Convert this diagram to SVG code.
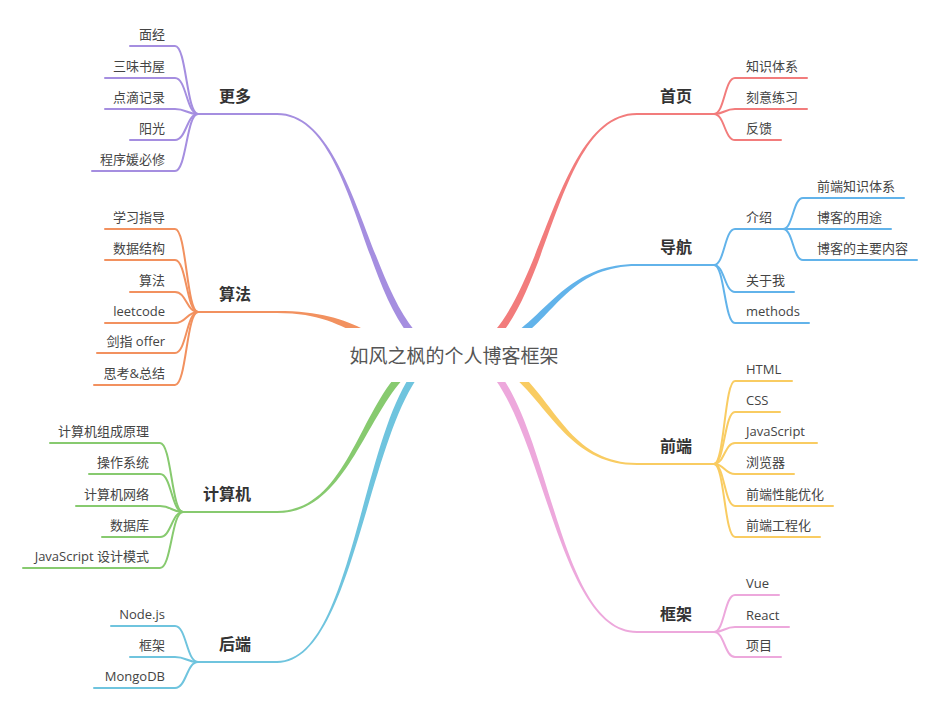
<svg xmlns="http://www.w3.org/2000/svg" width="939" height="711" viewBox="0 0 939 711">
<style>
.lf{font-family:"Open Sans","Noto Sans CJK SC",sans-serif;font-size:13px;fill:#444}
.le{text-anchor:end}
.mn{font-family:"Noto Sans CJK SC",sans-serif;font-size:16px;font-weight:bold;fill:#333}
.rt{font-family:"Noto Sans CJK SC",sans-serif;font-size:19px;fill:#555;text-anchor:middle}
.c{fill:none;stroke-width:2;stroke-linecap:round}
.pu{stroke:#a58ee0}.puf{fill:#a58ee0}
.or{stroke:#f2915f}.orf{fill:#f2915f}
.gr{stroke:#87ca6f}.grf{fill:#87ca6f}
.cy{stroke:#6fc4de}.cyf{fill:#6fc4de}
.re{stroke:#f27c7c}.ref{fill:#f27c7c}
.bl{stroke:#62b3ea}.blf{fill:#62b3ea}
.ye{stroke:#f9cc62}.yef{fill:#f9cc62}
.pk{stroke:#eda8dc}.pkf{fill:#eda8dc}
</style>
<rect width="939" height="711" fill="#fff"/>
<g id="connectors">
<!-- main tapered branches -->
<path class="puf" d="M 277,113 C 348.7,113 365.0,270.6 414.7,330.8 L 409.3,335.2 C 359.6,275.0 348.7,115 277,115 Z"/>
<path class="orf" d="M 277,311 C 319.9,311 343.6,319.2 365.1,329.9 L 361.9,336.1 C 340.4,325.5 319.9,313 277,313 Z"/>
<path class="grf" d="M 277,513 C 342.1,513 362.1,426.7 401.7,380.4 L 396.3,375.8 C 356.7,422.1 342.1,511 277,511 Z"/>
<path class="cyf" d="M 277,663 C 349.1,663 365.4,456.7 415.8,380.0 L 410.0,376.2 C 359.6,452.9 349.1,661 277,661 Z"/>
<path class="ref" d="M 637,113 C 562.9,113 546.1,270.5 494.8,330.7 L 500.2,335.3 C 551.5,275.1 562.9,115 637,115 Z"/>
<path class="blf" d="M 637,264 C 575.6,264 553.2,303.3 518.9,330.3 L 523.3,335.8 C 557.6,308.8 575.6,266 637,266 Z"/>
<path class="yef" d="M 637,465 C 575.1,465 552.6,414.2 517.8,380.5 L 522.6,375.5 C 557.4,409.2 575.1,463 637,463 Z"/>
<path class="pkf" d="M 637,633 C 563.3,633 546.1,451.3 495.6,380.0 L 501.4,376.0 C 551.9,447.3 563.3,631 637,631 Z"/>
<!-- main node underlines -->
<path class="c pu" d="M 198,114 H 277"/>
<path class="c or" d="M 198,312 H 277"/>
<path class="c gr" d="M 183,512 H 277"/>
<path class="c cy" d="M 198,662 H 277"/>
<path class="c re" d="M 637,114 H 714"/>
<path class="c bl" d="M 637,265 H 714"/>
<path class="c ye" d="M 637,464 H 714"/>
<path class="c pk" d="M 637,632 H 714"/>
<!-- 更多 leaves -->
<path class="c pu" d="M 198,114 C 186.5,114 186.5,46 175,46 H 130"/>
<path class="c pu" d="M 198,114 C 186.5,114 186.5,78 175,78 H 105"/>
<path class="c pu" d="M 198,114 C 186.5,114 186.5,109 175,109 H 105"/>
<path class="c pu" d="M 198,114 C 186.5,114 186.5,140 175,140 H 130"/>
<path class="c pu" d="M 198,114 C 186.5,114 186.5,171 175,171 H 92"/>
<!-- 算法 leaves -->
<path class="c or" d="M 198,312 C 186.5,312 186.5,229 175,229 H 105"/>
<path class="c or" d="M 198,312 C 186.5,312 186.5,260 175,260 H 105"/>
<path class="c or" d="M 198,312 C 186.5,312 186.5,292 175,292 H 130"/>
<path class="c or" d="M 198,312 C 186.5,312 186.5,323 175,323 H 105"/>
<path class="c or" d="M 198,312 C 186.5,312 186.5,353 175,353 H 97"/>
<path class="c or" d="M 198,312 C 186.5,312 186.5,385 175,385 H 94"/>
<!-- 计算机 leaves -->
<path class="c gr" d="M 183,512 C 171.5,512 171.5,443 160,443 H 50"/>
<path class="c gr" d="M 183,512 C 171.5,512 171.5,474 160,474 H 89"/>
<path class="c gr" d="M 183,512 C 171.5,512 171.5,506 160,506 H 76"/>
<path class="c gr" d="M 183,512 C 171.5,512 171.5,537 160,537 H 102"/>
<path class="c gr" d="M 183,512 C 171.5,512 171.5,568 160,568 H 23"/>
<!-- 后端 leaves -->
<path class="c cy" d="M 198,662 C 186.5,662 186.5,626 175,626 H 111"/>
<path class="c cy" d="M 198,662 C 186.5,662 186.5,657 175,657 H 130"/>
<path class="c cy" d="M 198,662 C 186.5,662 186.5,688 175,688 H 94"/>
<!-- 首页 leaves -->
<path class="c re" d="M 714,114 C 724.5,114 724.5,78 735,78 H 807"/>
<path class="c re" d="M 714,114 C 724.5,114 724.5,109 735,109 H 807"/>
<path class="c re" d="M 714,114 C 724.5,114 724.5,140 735,140 H 781"/>
<!-- 导航 leaves -->
<path class="c bl" d="M 714,265 C 724.5,265 724.5,229 735,229 H 783"/>
<path class="c bl" d="M 783,229 C 793,229 793,198 803,198 H 904"/>
<path class="c bl" d="M 783,229 C 793,229 793,229 803,229 H 891"/>
<path class="c bl" d="M 783,229 C 793,229 793,260 803,260 H 917"/>
<path class="c bl" d="M 714,265 C 724.5,265 724.5,292 735,292 H 794"/>
<path class="c bl" d="M 714,265 C 724.5,265 724.5,323 735,323 H 809"/>
<!-- 前端 leaves -->
<path class="c ye" d="M 714,464 C 724.5,464 724.5,381 735,381 H 792"/>
<path class="c ye" d="M 714,464 C 724.5,464 724.5,412 735,412 H 780"/>
<path class="c ye" d="M 714,464 C 724.5,464 724.5,443 735,443 H 817"/>
<path class="c ye" d="M 714,464 C 724.5,464 724.5,474 735,474 H 794"/>
<path class="c ye" d="M 714,464 C 724.5,464 724.5,506 735,506 H 833"/>
<path class="c ye" d="M 714,464 C 724.5,464 724.5,537 735,537 H 820"/>
<!-- 框架 leaves -->
<path class="c pk" d="M 714,632 C 724.5,632 724.5,595 735,595 H 779"/>
<path class="c pk" d="M 714,632 C 724.5,632 724.5,627 735,627 H 789"/>
<path class="c pk" d="M 714,632 C 724.5,632 724.5,657 735,657 H 781"/>
</g>
<g id="root">
<rect x="335" y="328" width="240" height="54" fill="#fff"/>
<text class="rt" x="454" y="362.5">如风之枫的个人博客框架</text>
</g>
<g id="n-more"><text class="mn" x="219" y="101.5">更多</text></g>
<g id="n-more-1"><text class="lf le" x="165" y="39">面经</text></g>
<g id="n-more-2"><text class="lf le" x="165" y="71">三味书屋</text></g>
<g id="n-more-3"><text class="lf le" x="165" y="102">点滴记录</text></g>
<g id="n-more-4"><text class="lf le" x="165" y="133">阳光</text></g>
<g id="n-more-5"><text class="lf le" x="165" y="164">程序媛必修</text></g>
<g id="n-algo"><text class="mn" x="219" y="299.5">算法</text></g>
<g id="n-algo-1"><text class="lf le" x="165" y="222">学习指导</text></g>
<g id="n-algo-2"><text class="lf le" x="165" y="253">数据结构</text></g>
<g id="n-algo-3"><text class="lf le" x="165" y="285">算法</text></g>
<g id="n-algo-4"><text class="lf le" x="165" y="316">leetcode</text></g>
<g id="n-algo-5"><text class="lf le" x="165" y="346">剑指 offer</text></g>
<g id="n-algo-6"><text class="lf le" x="165" y="378">思考&amp;总结</text></g>
<g id="n-cs"><text class="mn" x="203" y="499.5">计算机</text></g>
<g id="n-cs-1"><text class="lf le" x="149" y="436">计算机组成原理</text></g>
<g id="n-cs-2"><text class="lf le" x="149" y="467">操作系统</text></g>
<g id="n-cs-3"><text class="lf le" x="149" y="499">计算机网络</text></g>
<g id="n-cs-4"><text class="lf le" x="149" y="530">数据库</text></g>
<g id="n-cs-5"><text class="lf le" x="149" y="561">JavaScript 设计模式</text></g>
<g id="n-be"><text class="mn" x="219" y="649.5">后端</text></g>
<g id="n-be-1"><text class="lf le" x="165" y="619">Node.js</text></g>
<g id="n-be-2"><text class="lf le" x="165" y="650">框架</text></g>
<g id="n-be-3"><text class="lf le" x="165" y="681">MongoDB</text></g>
<g id="n-home"><text class="mn" x="660" y="101.5">首页</text></g>
<g id="n-home-1"><text class="lf" x="746" y="71">知识体系</text></g>
<g id="n-home-2"><text class="lf" x="746" y="102">刻意练习</text></g>
<g id="n-home-3"><text class="lf" x="746" y="133">反馈</text></g>
<g id="n-nav"><text class="mn" x="660" y="252.5">导航</text></g>
<g id="n-nav-1"><text class="lf" x="746" y="222">介绍</text></g>
<g id="n-nav-1-1"><text class="lf" x="817" y="191">前端知识体系</text></g>
<g id="n-nav-1-2"><text class="lf" x="817" y="222">博客的用途</text></g>
<g id="n-nav-1-3"><text class="lf" x="817" y="253">博客的主要内容</text></g>
<g id="n-nav-2"><text class="lf" x="746" y="285">关于我</text></g>
<g id="n-nav-3"><text class="lf" x="746" y="316">methods</text></g>
<g id="n-fe"><text class="mn" x="660" y="451.5">前端</text></g>
<g id="n-fe-1"><text class="lf" x="746" y="374">HTML</text></g>
<g id="n-fe-2"><text class="lf" x="746" y="405">CSS</text></g>
<g id="n-fe-3"><text class="lf" x="746" y="436">JavaScript</text></g>
<g id="n-fe-4"><text class="lf" x="746" y="467">浏览器</text></g>
<g id="n-fe-5"><text class="lf" x="746" y="499">前端性能优化</text></g>
<g id="n-fe-6"><text class="lf" x="746" y="530">前端工程化</text></g>
<g id="n-fw"><text class="mn" x="660" y="619.5">框架</text></g>
<g id="n-fw-1"><text class="lf" x="746" y="588">Vue</text></g>
<g id="n-fw-2"><text class="lf" x="746" y="620">React</text></g>
<g id="n-fw-3"><text class="lf" x="746" y="650">项目</text></g>
</svg>
